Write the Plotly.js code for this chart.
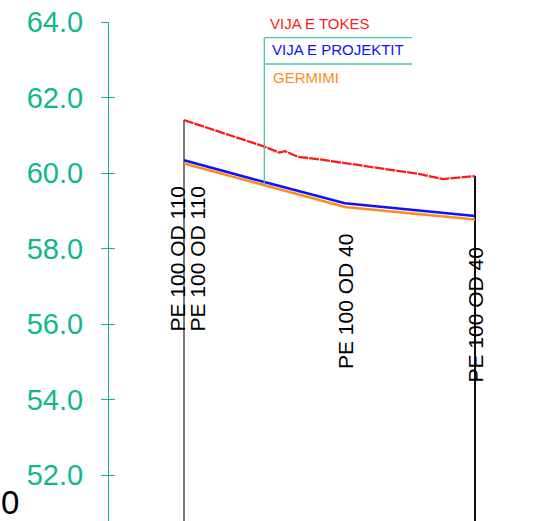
<!DOCTYPE html>
<html>
<head>
<meta charset="utf-8">
<script src="https://cdn.plot.ly/plotly-3.0.1.min.js"></script>
<style>html,body{margin:0;padding:0;background:#fff;}#chart{width:535px;height:521px;}</style>
</head>
<body>
<div id="chart"></div>
<script>
// Stations along the profile (m) and elevations (m)
const groundStations = [0, 27.6, 32.7, 34.7, 39.2, 46.7, 81.1, 89.0, 100];
const groundLevels   = [61.40, 60.70, 60.54, 60.58, 60.43, 60.36, 59.97, 59.84, 59.92];
const designStations = [0, 27.6, 55.3, 100];
const designLevels   = [60.34, 59.76, 59.20, 58.86];
const trenchStations = [0, 27.6, 55.3, 100];
const trenchLevels   = [60.25, 59.68, 59.10, 58.77];
const pipeLabels     = ["PE 100 OD 110", "PE 100 OD 110", "PE 100 OD 40", "PE 100 OD 40"];
const legendNames    = ["VIJA E TOKES", "VIJA E PROJEKTIT", "GERMIMI"];
const yTickVals      = [52, 54, 56, 58, 60, 62, 64];

const W = 535, H = 521;
const PX_PER_M = 2.91, X0_PX = 184;       // horizontal scale
const PX_PER_UNIT = 37.75, TOP_PX = 22;   // vertical scale
const xRange = [(0 - X0_PX) / PX_PER_M, (W - X0_PX) / PX_PER_M];
const yTop = 64;
const yBottom = yTop - (H - TOP_PX) / PX_PER_UNIT;
const toStation = px => (px - X0_PX) / PX_PER_M;
const toLevel = py => yTop - (py - TOP_PX) / PX_PER_UNIT;

const GREEN = "#10b887";
const TEAL = "#45c9a3";
const RED = "#ff1a1a";
const BLUE = "#1010ff";
const ORANGE = "#ff8c1a";

const traces = [
  {x: [designStations[0], designStations[0]], y: [yBottom, groundLevels[0]], mode: "lines",
   line: {color: "#7a7a7a", width: 2}, hoverinfo: "skip", showlegend: false},
  {x: [designStations[designStations.length-1], designStations[designStations.length-1]],
   y: [yBottom, groundLevels[groundLevels.length-1]], mode: "lines",
   line: {color: "#111111", width: 2}, hoverinfo: "skip", showlegend: false},
  {x: trenchStations, y: trenchLevels, mode: "lines", name: legendNames[2],
   line: {color: ORANGE, width: 2.6}, showlegend: false},
  {x: designStations, y: designLevels, mode: "lines", name: legendNames[1],
   line: {color: BLUE, width: 2.6}, showlegend: false},
  {x: groundStations, y: groundLevels, mode: "lines", name: legendNames[0],
   line: {color: RED, width: 2.3, dash: "10px,1px"}, showlegend: false},
  {x: [null], y: [null], yaxis: "y2", mode: "lines", showlegend: false, hoverinfo: "skip"}
];

// leader box for the legend
const leaderX = designStations[1];
const boxRight = toStation(412);
const boxTop = toLevel(37.7);
const boxMid = toLevel(64);
const shapes = [
  {type: "line", xref: "x", yref: "y", x0: leaderX, x1: leaderX, y0: trenchLevels[1], y1: boxTop,
   line: {color: TEAL, width: 1.3}},
  {type: "line", xref: "x", yref: "y", x0: leaderX, x1: boxRight, y0: boxTop, y1: boxTop,
   line: {color: TEAL, width: 1.3}},
  {type: "line", xref: "x", yref: "y", x0: leaderX, x1: boxRight, y0: boxMid, y1: boxMid,
   line: {color: TEAL, width: 1.3}}
];

const labelPos = [[176.5, 259], [197, 258.5], [345, 302], [474.5, 315]];
const annotations = pipeLabels.map((t, i) => ({
  text: t, x: toStation(labelPos[i][0]), y: toLevel(labelPos[i][1]), xref: "x", yref: "y",
  textangle: -90, showarrow: false, xanchor: "center", yanchor: "middle",
  font: {family: "Liberation Sans, Arial, sans-serif", size: 21, color: "#000"}
}));
const legendColors = [RED, BLUE, ORANGE];
const legendY = [24, 49.5, 77.5];
const legendX = [268, 270, 271];
legendNames.forEach((t, i) => annotations.push({
  text: t, xref: "paper", yref: "paper", x: legendX[i] / W, y: 1 - legendY[i] / H,
  xanchor: "left", yanchor: "middle", showarrow: false,
  font: {family: "Liberation Sans, Arial, sans-serif", size: 15, color: legendColors[i]}
}));
annotations.push({
  text: "0", xref: "paper", yref: "paper", x: 0, y: 1 - 502 / H,
  xanchor: "left", yanchor: "middle", showarrow: false, borderpad: 0,
  font: {family: "Liberation Sans, Arial, sans-serif", size: 33, color: "#000"}
});

const axisPos = 108 / W;
const layout = {
  width: W, height: H,
  margin: {l: 0, r: 0, t: 0, b: 0, pad: 0},
  paper_bgcolor: "#fff", plot_bgcolor: "#fff",
  xaxis: {range: xRange, visible: false, fixedrange: true},
  yaxis: {
    domain: [0, (H - TOP_PX) / H], range: [yBottom, yTop], anchor: "free", position: axisPos,
    tickvals: yTickVals, ticktext: yTickVals.map(v => v.toFixed(1)),
    ticks: "outside", ticklen: 7, tickwidth: 1, tickcolor: GREEN,
    showline: true, linecolor: GREEN, linewidth: 1.2,
    showgrid: false, zeroline: false, ticklabelstandoff: 12,
    tickfont: {family: "Liberation Sans, Arial, sans-serif", size: 29, color: GREEN}
  },
  yaxis2: {
    overlaying: "y", range: [yBottom, yTop], anchor: "free", position: axisPos,
    tickvals: yTickVals, showticklabels: false,
    ticks: "inside", ticklen: 6, tickwidth: 1, tickcolor: GREEN,
    showline: false, showgrid: false, zeroline: false
  },
  shapes: shapes,
  annotations: annotations,
  showlegend: false
};

Plotly.newPlot("chart", traces, layout, {staticPlot: true, displayModeBar: false});
</script>
</body>
</html>
